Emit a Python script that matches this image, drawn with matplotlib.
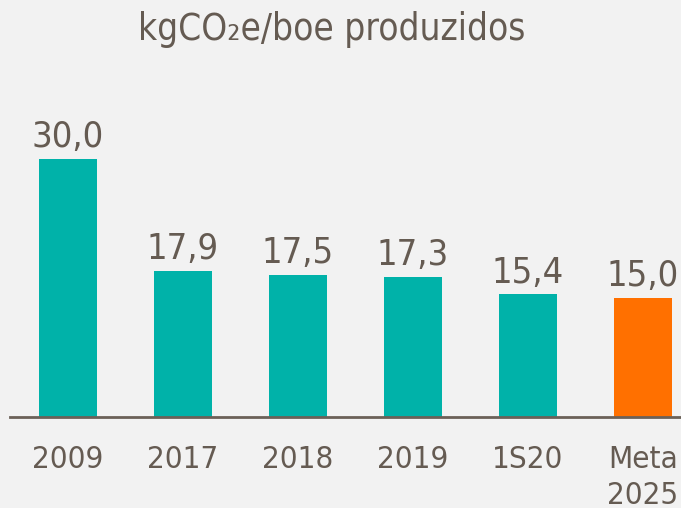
import numpy as np
import matplotlib.pyplot as plt

# emissions intensity, kgCO2e per boe produced
periods = ["2009", "2017", "2018", "2019", "1S20", "Meta\n2025"]
values = [30.0, 17.9, 17.5, 17.3, 15.4, 15.0]
labels = ["30,0", "17,9", "17,5", "17,3", "15,4", "15,0"]

TEAL = "#00b2a9"
ORANGE = "#ff7000"
TEXT = "#655b52"
BG = "#f2f2f2"

plt.rcParams["font.family"] = ["DejaVu Sans"]
plt.rcParams["font.stretch"] = "condensed"

fig = plt.figure(figsize=(6.81, 5.08), dpi=100, facecolor=BG)
ax = fig.add_axes([10 / 681, 1 - 417 / 508, 671 / 681, 417 / 508])
ax.set_facecolor(BG)

x = np.arange(len(values))
colors = [TEAL] * (len(values) - 1) + [ORANGE]
ax.bar(x, values, width=0.5, color=colors, zorder=2)

for xi, v, lab in zip(x, values, labels):
    ax.text(xi, v + 0.5, lab, ha="center", va="bottom", fontsize=26,
            color=TEXT)

ax.set_xlim(-0.504, 5.33)
base = 2.16
ax.set_ylim(base, base + 417 / 9.27)

for s in ["top", "right", "left"]:
    ax.spines[s].set_visible(False)
ax.spines["bottom"].set_color("#6b6158")
ax.spines["bottom"].set_linewidth(2)
ax.set_yticks([])
ax.set_xticks([])

# category labels under the baseline
for xi, p in zip(x, periods):
    fig.text((10 + (xi + 0.504) * 115) / 681, 1 - 445 / 508, p,
             ha="center", va="top", fontsize=22.5, color=TEXT,
             linespacing=1.3)

fig.text(332 / 681, 1 - 40 / 508, "kgCO\u2082e/boe produzidos",
         ha="center", va="baseline", fontsize=26.5, color=TEXT)

fig.savefig("out.png", dpi=100, facecolor=BG)
